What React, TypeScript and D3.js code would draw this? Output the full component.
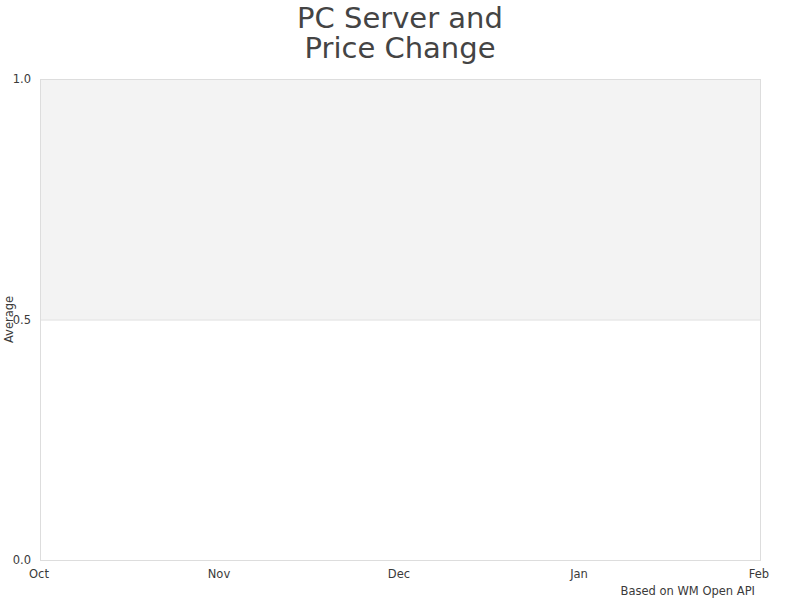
import React, { useRef, useEffect } from 'react';
import * as d3 from 'd3';

const months = ['Oct', 'Nov', 'Dec', 'Jan', 'Feb'];
const yTicks = [0, 0.5, 1.0];
const yDomain = [0, 1];
const shadedBand = [0.5, 1.0];
const titleLines = ['PC Server and', 'Price Change'];

const App: React.FC = () => {
  const svgRef = useRef<SVGSVGElement>(null);
  const width = 800;
  const height = 600;
  const margin = { top: 79, right: 40, bottom: 40, left: 40 };

  useEffect(() => {
    if (!svgRef.current) return;
    const svg = d3.select(svgRef.current);
    svg.selectAll('*').remove();

    const innerWidth = width - margin.left - margin.right;
    const innerHeight = height - margin.top - margin.bottom;
    const font = 'DejaVu Sans, sans-serif';
    const small = 11.5;

    const x = d3.scalePoint<string>().domain(months).range([0, innerWidth]);
    const y = d3.scaleLinear().domain(yDomain).range([innerHeight, 0]);

    const g = svg.append('g').attr('transform', `translate(${margin.left},${margin.top})`);

    // Shaded band
    g.append('rect')
      .attr('x', 0)
      .attr('y', y(shadedBand[1]))
      .attr('width', innerWidth)
      .attr('height', y(shadedBand[0]) - y(shadedBand[1]))
      .attr('fill', '#f3f3f3');

    // Band edge line
    g.append('line')
      .attr('x1', 0)
      .attr('x2', innerWidth)
      .attr('y1', y(shadedBand[0]) + 0.5)
      .attr('y2', y(shadedBand[0]) + 0.5)
      .attr('stroke', '#dddddd');

    // Frame
    g.append('rect')
      .attr('x', 0.5)
      .attr('y', 0.5)
      .attr('width', innerWidth)
      .attr('height', innerHeight)
      .attr('fill', 'none')
      .attr('stroke', '#dddddd');

    // Y axis ticks
    g.selectAll('.ytick')
      .data(yTicks)
      .enter()
      .append('text')
      .attr('x', -9)
      .attr('y', d => y(d))
      .attr('dy', '0.35em')
      .attr('text-anchor', 'end')
      .attr('font-family', font)
      .attr('font-size', small)
      .attr('fill', '#3a3a3a')
      .text(d => d3.format('.1f')(d));

    // X axis ticks
    g.selectAll('.xtick')
      .data(months)
      .enter()
      .append('text')
      .attr('x', d => (x(d) || 0) - 1)
      .attr('y', innerHeight + 18)
      .attr('text-anchor', 'middle')
      .attr('font-family', font)
      .attr('font-size', small)
      .attr('fill', '#3a3a3a')
      .text(d => d);

    // Y label
    g.append('text')
      .attr('transform', 'rotate(-90)')
      .attr('x', -innerHeight / 2)
      .attr('y', -27)
      .attr('text-anchor', 'middle')
      .attr('font-family', font)
      .attr('font-size', small)
      .attr('fill', '#3a3a3a')
      .text('Average');

    // Title
    svg.append('text')
      .attr('x', width / 2)
      .attr('y', 28)
      .attr('text-anchor', 'middle')
      .attr('font-family', font)
      .attr('font-size', 29)
      .attr('fill', '#444')
      .selectAll('tspan')
      .data(titleLines)
      .enter()
      .append('tspan')
      .attr('x', width / 2)
      .attr('dy', (_d, i) => (i === 0 ? 0 : 30))
      .text(d => d);

    // Footer
    svg.append('text')
      .attr('x', 755)
      .attr('y', 595)
      .attr('text-anchor', 'end')
      .attr('font-family', font)
      .attr('font-size', small)
      .attr('fill', '#3a3a3a')
      .text('Based on WM Open API');
  }, []);

  return (
    <div style={{ position: 'fixed', left: 0, top: 0, width, height, background: '#fff' }}>
      <svg ref={svgRef} width={width} height={height} style={{ display: 'block' }} />
    </div>
  );
};

export default App;
